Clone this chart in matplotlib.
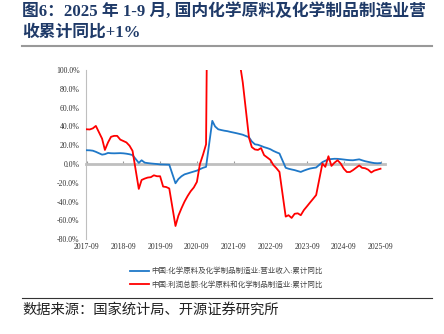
import pandas as pd
import matplotlib.pyplot as plt
import matplotlib.dates as mdates
from matplotlib.lines import Line2D
from matplotlib.ticker import FuncFormatter

cjk = ['Liberation Serif', 'Noto Sans CJK SC', 'DejaVu Sans']
plt.rcParams['font.family'] = cjk

# monthly cumulative data, January is merged into Feb in the stats
months = pd.date_range('2017-09-01', '2025-09-01', freq='MS')
months = months[months.month != 1]

revenue_yoy = [
    14.7, 14.6, 14.2, 13.0,
    10.0, 10.5, 11.8, 11.5, 11.4, 11.5, 11.6, 11.4, 11.0, 10.4, 9.5,
    1.2, 4.0, 1.5, 1.0, 0.6, 0.3, 0.0, -0.4, -0.5, -0.6, -0.7,
    -20.5, -16.0, -13.0, -11.0, -10.0, -9.0, -8.0, -7.0, -5.5, -4.0, -3.0,
    46.0, 40.0, 37.0, 36.2, 35.5, 35.0, 34.2, 33.5, 32.8, 32.0, 31.2,
    28.5, 24.0, 21.0, 20.5, 19.3, 18.0, 17.0, 15.8, 14.0, 12.5, 11.2,
    -4.0, -5.0, -5.8, -6.5, -7.5, -8.4, -7.0, -5.8, -4.8, -4.2, -3.7,
    2.0, 3.5, 5.0, 5.3, 5.6, 5.5, 5.2, 4.8, 4.4, 4.1, 4.0,
    5.0, 4.0, 3.0, 2.3, 1.6, 1.0, 0.8, 1.0,
]

profit_yoy = [
    37.0, 36.8, 38.0, 40.6,
    27.0, 15.0, 23.0, 29.0, 30.0, 30.0, 26.0, 24.5, 23.0, 19.5, 14.0,
    -26.5, -17.0, -15.5, -14.4, -14.0, -12.0, -13.0, -13.0, -24.0, -24.5, -26.0,
    -66.0, -55.0, -47.0, -40.0, -34.0, -29.0, -25.0, -19.0, 0.0, 10.0, 21.0,
    800.0, 500.0, 350.0, 260.0, 210.0, 180.0, 155.0, 135.0, 120.0, 108.0, 87.0,
    28.0, 18.0, 15.5, 15.0, 17.0, 9.5, 7.0, 4.5, -1.0, -4.5, -8.4,
    -56.0, -54.5, -57.4, -53.0, -52.5, -54.5, -49.0, -45.0, -41.0, -37.0, -33.0,
    0.5, -3.0, 8.3, -2.0, 1.5, 4.0, 0.5, -5.0, -8.5, -8.5, -6.5,
    -1.5, -4.0, -4.5, -6.0, -9.0, -7.0, -6.0, -5.0,
]

labels = ['中国:化学原料及化学制品制造业:营业收入:累计同比',
          '中国:利润总额:化学原料和化学制品制造业:累计同比']

fig = plt.figure(figsize=(4.44, 3.34), dpi=100)
ax = fig.add_axes([0.193, 0.284, 0.674, 0.506])

ax.plot(months, revenue_yoy, color='#1f78c8', lw=1.3, label=labels[0], zorder=3)
ax.plot(months, profit_yoy, color='#ff0000', lw=1.3, label=labels[1], zorder=3)

ax.set_ylim(-80, 100)
ax.set_yticks(range(-80, 101, 20))
ax.yaxis.set_major_formatter(FuncFormatter(lambda v, p: '%.1f%%' % v))
ax.set_xlim(pd.Timestamp('2017-08-22'), pd.Timestamp('2025-10-15'))
ax.set_xticks(pd.date_range('2017-09-01', '2025-09-01', freq='12MS'))
ax.xaxis.set_major_formatter(mdates.DateFormatter('%Y-%m'))

ax.spines['top'].set_visible(False)
ax.spines['right'].set_visible(False)
ax.spines['bottom'].set_position(('data', 0))
ax.spines['bottom'].set_color('#bfbfbf')
ax.spines['bottom'].set_linewidth(2)
ax.spines['bottom'].set_zorder(2)
ax.spines['left'].set_color('#bfbfbf')
ax.spines['left'].set_linewidth(0.8)
ax.tick_params(axis='x', direction='in', length=2, color='#999999',
               pad=57, labelsize=5.6, labelcolor='#333333')
ax.tick_params(axis='y', length=0, pad=4.5, labelsize=5.6, labelcolor='#333333')

fig.legend(loc='upper left', bbox_to_anchor=(0.285, 0.21), frameon=False,
           fontsize=5.4, labelcolor='#444444', handlelength=2.6,
           handletextpad=0.3, labelspacing=0.75, borderaxespad=0)

title_color = '#1f3a68'
fig.text(0.05, 0.967, '图6：2025 年 1-9 月, 国内化学原料及化学制品制造业营',
         fontsize=12.1, fontweight='bold', color=title_color, va='center')
fig.text(0.05, 0.901, '收累计同比+1%',
         fontsize=12.1, fontweight='bold', color=title_color, va='center')
fig.add_artist(Line2D([0.05, 0.973], [0.862, 0.862], color='#999999', lw=1.5))
fig.add_artist(Line2D([0.05, 0.973], [0.108, 0.108], color='#333333', lw=0.8))
fig.text(0.05, 0.072, '数据来源：国家统计局、开源证券研究所',
         fontsize=10.3, color='#222222', va='center')

plt.savefig('out.png', dpi=100)
